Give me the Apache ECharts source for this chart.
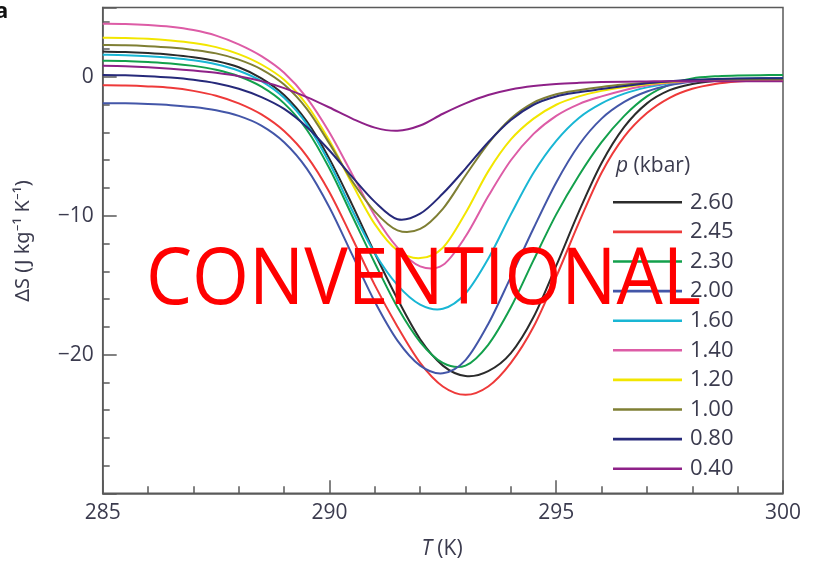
<!DOCTYPE html>
<html>
<head>
<meta charset="utf-8">
<script src="https://cdn.jsdelivr.net/npm/echarts@6/dist/echarts.min.js"></script>
<style>
  html, body { margin: 0; padding: 0; background: #fff; }
  #chart { width: 819px; height: 566px; }
</style>
</head>
<body>
<div id="chart"></div>
<script>
// Temperature grid (K), every 0.5 K
const temps = [285, 285.5, 286, 286.5, 287, 287.5, 288, 288.5, 289, 289.5, 290, 290.5, 291, 291.5,
               292, 292.5, 293, 293.5, 294, 294.5, 295, 295.5, 296, 296.5, 297, 297.5, 298, 298.5,
               299, 299.5, 300];

// Entropy change ΔS (J kg^-1 K^-1) for each applied pressure
const dS_260 = [1.83, 1.8, 1.72, 1.6, 1.42, 1.15, 0.7, -0.1, -1.3, -3.2, -5.9, -9.2, -12.7, -16.0,
                -18.9, -20.8, -21.55, -21.2, -19.9, -17.3, -13.6, -9.7, -6.2, -3.6, -1.9, -0.95, -0.5,
                -0.28, -0.17, -0.12, -0.1];
const dS_245 = [-0.6, -0.62, -0.68, -0.78, -1.0, -1.35, -1.9, -2.7, -3.9, -5.7, -8.3, -11.6, -15.0, -18.0,
                -20.6, -22.3, -22.9, -22.3, -20.6, -18.0, -14.4, -10.5, -6.9, -4.3, -2.6, -1.5, -0.85,
                -0.5, -0.32, -0.24, -0.2];
const dS_230 = [1.17, 1.15, 1.08, 0.98, 0.8, 0.52, 0.05, -0.7, -1.9, -3.8, -6.6, -10.0, -13.4, -16.6,
                -19.1, -20.6, -20.8, -19.3, -16.6, -13.2, -9.9, -7.1, -4.7, -2.8, -1.4, -0.55, -0.1,
                0.05, 0.1, 0.13, 0.15];
const dS_200 = [-1.89, -1.9, -1.95, -2.03, -2.17, -2.4, -2.8, -3.5, -4.7, -6.6, -9.4, -12.8, -16.2, -19.0,
                -20.8, -21.35, -20.4, -17.8, -14.4, -10.9, -7.6, -4.9, -3.0, -1.8, -1.05, -0.6, -0.35,
                -0.22, -0.15, -0.12, -0.1];
const dS_160 = [1.6, 1.57, 1.5, 1.38, 1.2, 0.92, 0.45, -0.3, -1.5, -3.4, -6.2, -9.6, -12.7, -15.0,
                -16.4, -16.7, -15.6, -13.1, -9.9, -6.9, -4.6, -2.95, -1.9, -1.2, -0.75, -0.45, -0.28,
                -0.18, -0.13, -0.11, -0.1];
const dS_140 = [3.84, 3.82, 3.75, 3.62, 3.38, 2.98, 2.35, 1.5, 0.3, -1.5, -4.0, -7.0, -10.0, -12.3,
                -13.65, -13.55, -11.5, -8.6, -6.0, -4.1, -2.8, -1.95, -1.4, -0.95, -0.62, -0.42, -0.3,
                -0.24, -0.21, -0.2, -0.2];
const dS_120 = [2.83, 2.81, 2.75, 2.63, 2.45, 2.15, 1.65, 0.9, -0.2, -2.0, -4.6, -7.7, -10.6, -12.5,
                -13.05, -12.3, -9.8, -6.8, -4.5, -3.0, -2.0, -1.4, -1.0, -0.72, -0.52, -0.38, -0.28,
                -0.23, -0.21, -0.2, -0.2];
const dS_100 = [2.3, 2.28, 2.22, 2.12, 1.95, 1.7, 1.25, 0.55, -0.55, -2.3, -4.8, -7.5, -9.7, -11.05,
                -10.95, -9.5, -7.1, -4.8, -3.0, -1.85, -1.25, -0.95, -0.72, -0.55, -0.42, -0.32, -0.24,
                -0.19, -0.16, -0.15, -0.15];
const dS_080 = [0.15, 0.12, 0.06, -0.04, -0.2, -0.45, -0.85, -1.45, -2.3, -3.6, -5.3, -7.2, -9.0, -10.25,
                -9.85, -8.4, -6.6, -4.7, -3.1, -2.0, -1.4, -1.1, -0.87, -0.65, -0.45, -0.3, -0.2,
                -0.14, -0.11, -0.1, -0.1];
const dS_040 = [0.81, 0.77, 0.7, 0.6, 0.47, 0.3, 0.06, -0.3, -0.8, -1.45, -2.2, -3.0, -3.65, -3.88,
                -3.5, -2.65, -1.9, -1.3, -0.9, -0.65, -0.5, -0.42, -0.37, -0.34, -0.32, -0.3, -0.3,
                -0.3, -0.3, -0.3, -0.3];

// Pressure labels (kbar), in legend order
const pressures = ['2.60', '2.45', '2.30', '2.00', '1.60', '1.40', '1.20', '1.00', '0.80', '0.40'];
const seriesValues = [dS_260, dS_245, dS_230, dS_200, dS_160, dS_140, dS_120, dS_100, dS_080, dS_040];
const colors = ['#2b2b2b', '#ee3a3a', '#13a04c', '#4356a8', '#19b6d4', '#dd5ca6', '#f2e600', '#7f7f34', '#26297a', '#8e2188'];

// Tick values labelled on the ΔS axis
const yTickLabels = [0, -10, -20];

const textColor = '#3b3b4e';
const axisColor = '#5a5a5a';
const fontFamily = '"Open Sans", "Noto Sans", sans-serif';

const chart = echarts.init(document.getElementById('chart'), null, { renderer: 'canvas' });

// Horizontal squeeze for the overlay word so it spans its box
const overlayWord = 'CONVENTIONAL';
const overlaySize = 78;
const overlayFont = '"Open Sans", sans-serif';
const mctx = document.createElement('canvas').getContext('2d');
mctx.font = overlaySize + 'px ' + overlayFont;
const overlayScale = 555 / mctx.measureText(overlayWord).width;

// Catmull-Rom spline through the projected points, written as cubic Béziers
function splinePath(pts) {
  let d = 'M' + pts[0][0] + ',' + pts[0][1];
  for (let i = 0; i < pts.length - 1; i++) {
    const p0 = pts[Math.max(i - 1, 0)];
    const p1 = pts[i];
    const p2 = pts[i + 1];
    const p3 = pts[Math.min(i + 2, pts.length - 1)];
    const c1x = p1[0] + (p2[0] - p0[0]) / 6, c1y = p1[1] + (p2[1] - p0[1]) / 6;
    const c2x = p2[0] - (p3[0] - p1[0]) / 6, c2y = p2[1] - (p3[1] - p1[1]) / 6;
    d += 'C' + c1x + ',' + c1y + ' ' + c2x + ',' + c2y + ' ' + p2[0] + ',' + p2[1];
  }
  return d;
}

const series = pressures.map((p, i) => ({
  name: p,
  type: 'custom',
  xAxisIndex: 0,
  yAxisIndex: 0,
  data: temps.map((t, k) => [t, seriesValues[i][k]]),
  encode: { x: 0, y: 1 },
  clip: true,
  itemStyle: { color: colors[i] },
  z: 2 + i,
  renderItem: (params, api) => {
    if (params.dataIndex !== 0) return null;
    const pts = temps.map((t, k) => api.coord([t, seriesValues[i][k]]));
    return {
      type: 'path',
      shape: { pathData: splinePath(pts) },
      style: { fill: 'none', stroke: colors[i], lineWidth: 2, lineJoin: 'round' }
    };
  }
}));

const option = {
  animation: false,
  backgroundColor: '#fff',
  grid: {
    left: 102.7, right: 36, top: 7.6, bottom: 72.7,
    show: true, borderColor: axisColor, borderWidth: 1.5, backgroundColor: 'transparent'
  },
  xAxis: {
    type: 'value', min: 285, max: 300, interval: 5,
    axisLine: { onZero: false, lineStyle: { color: axisColor, width: 1.5 } },
    axisTick: { inside: true, length: 13, lineStyle: { color: axisColor, width: 1.5 } },
    minorTick: { show: true, splitNumber: 5, length: 7, lineStyle: { color: axisColor, width: 1.5 } },
    splitLine: { show: false },
    axisLabel: { fontSize: 21, color: textColor, fontFamily: fontFamily, margin: 9 }
  },
  yAxis: [
    {
      type: 'value', min: -30, max: 5, interval: 2,
      axisLine: { onZero: false, lineStyle: { color: axisColor, width: 1.5 } },
      axisTick: { inside: true, length: 7, lineStyle: { color: axisColor, width: 1.5 } },
      splitLine: { show: false },
      axisLabel: {
        fontSize: 21, color: textColor, fontFamily: fontFamily, margin: 9, showMaxLabel: false,
        formatter: v => yTickLabels.indexOf(v) >= 0 ? (v < 0 ? '\u2212' + Math.abs(v) : String(v)) : ''
      }
    },
    {
      type: 'value', min: -30, max: 5, interval: 10, position: 'left',
      axisLine: { show: false, onZero: false },
      axisTick: { inside: true, length: 14, lineStyle: { color: axisColor, width: 1.5 } },
      splitLine: { show: false },
      axisLabel: { show: false }
    }
  ],
  legend: {
    data: pressures.map(p => ({ name: p, icon: 'rect' })),
    orient: 'vertical',
    left: 608, top: 182.5,
    itemWidth: 69, itemHeight: 2.6, itemGap: 0,
    textStyle: { fontSize: 22, lineHeight: 29.6, color: textColor, fontFamily: fontFamily, padding: [0, 0, 0, 3] },
    selectedMode: false
  },
  graphic: [
    {
      type: 'text', left: 616, top: 156, z: 10,
      style: {
        text: '{i|p} (kbar)', fontSize: 21, fill: textColor, fontFamily: fontFamily,
        rich: { i: { fontStyle: 'italic', fontSize: 21, fill: textColor, fontFamily: fontFamily } }
      }
    },
    {
      type: 'text', x: 442, y: 549, z: 10,
      style: {
        text: '{i|T} (K)', fontSize: 21, fill: textColor, fontFamily: fontFamily,
        align: 'center', verticalAlign: 'middle',
        rich: { i: { fontStyle: 'italic', fontSize: 21, fill: textColor, fontFamily: fontFamily } }
      }
    },
    {
      type: 'text', x: 23, y: 241, rotation: Math.PI / 2, z: 10,
      style: {
        text: '\u0394S (J kg\u207B\u00B9 K\u207B\u00B9)', fontSize: 20, fill: textColor,
        fontFamily: '"Noto Sans", "DejaVu Sans", sans-serif',
        align: 'center', verticalAlign: 'middle'
      }
    },
    {
      type: 'text', x: -5, y: 12, z: 10,
      style: { text: 'a', fontSize: 22, fontWeight: 'bold', fill: '#111', fontFamily: fontFamily, verticalAlign: 'middle' }
    },
    {
      type: 'text', x: 146, y: 282, scaleX: overlayScale, z: 20,
      style: {
        text: overlayWord, fontSize: overlaySize, fontFamily: overlayFont, fill: '#ff0000',
        align: 'left', verticalAlign: 'middle'
      }
    }
  ],
  series: series
};

chart.setOption(option);
</script>
</body>
</html>
